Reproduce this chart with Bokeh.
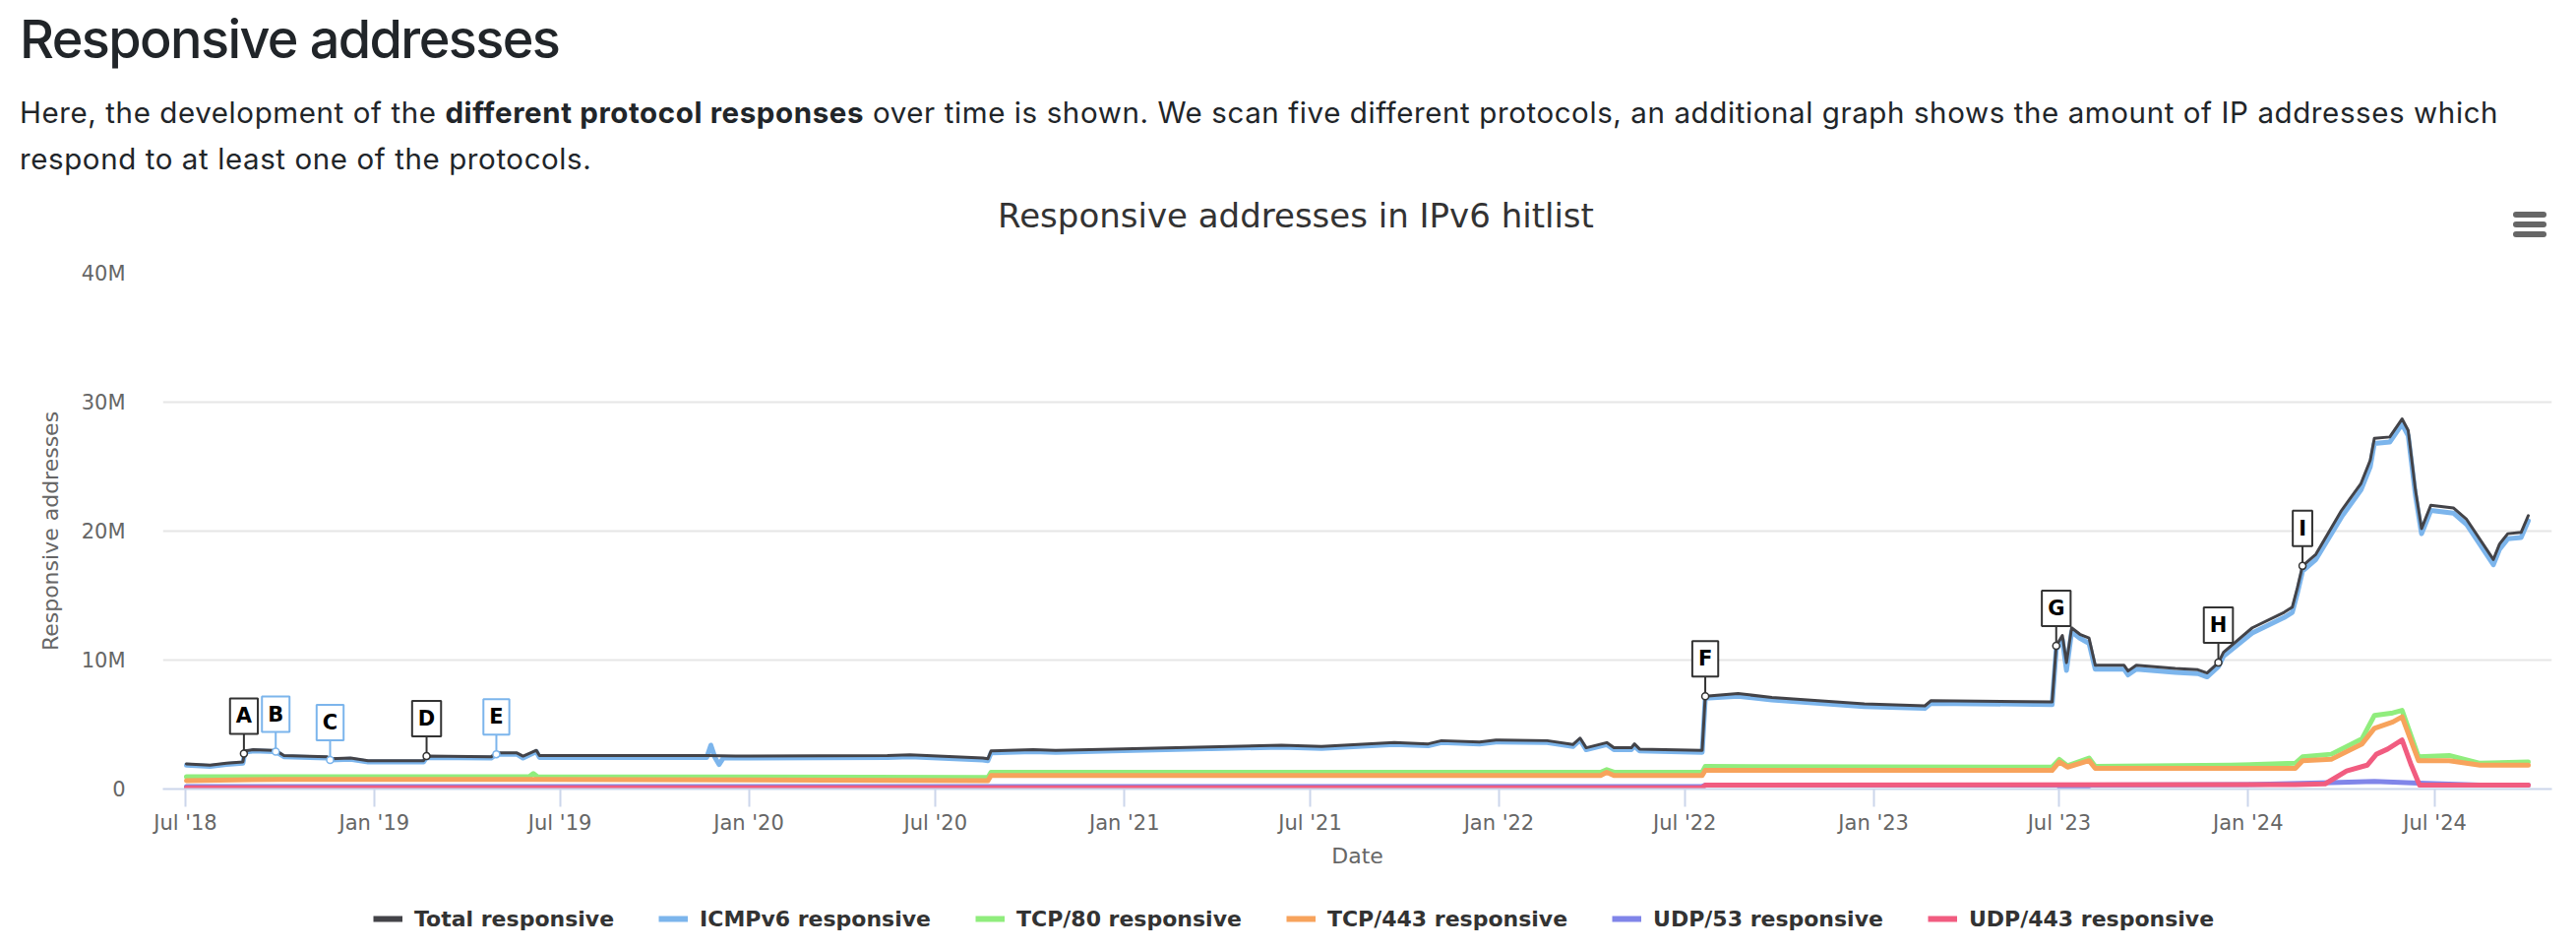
import pandas as pd
from bokeh.plotting import figure
from bokeh.layouts import column
from bokeh.models import (Div, Range1d, FixedTicker, MonthsTicker, DatetimeTickFormatter,
                          Legend, LegendItem, Label, ColumnDataSource)
from bokeh.embed import file_html
from bokeh.resources import INLINE

# ---------------- data (values in millions of responsive addresses) ----------------
total_dates = ["2018-07-02", "2018-07-25", "2018-08-10", "2018-08-26", "2018-08-28", "2018-09-05",
               "2018-09-25", "2018-09-28", "2018-10-05", "2018-11-16", "2018-11-19", "2018-12-09",
               "2018-12-26", "2019-02-18", "2019-02-21", "2019-04-25", "2019-04-30", "2019-05-20",
               "2019-05-26", "2019-06-08", "2019-06-11", "2019-11-21", "2019-12-19", "2020-05-15",
               "2020-06-06", "2020-08-16", "2020-08-21", "2020-08-24", "2020-10-04", "2020-10-26",
               "2020-12-20", "2021-06-03", "2021-07-12", "2021-09-21", "2021-10-24", "2021-11-06",
               "2021-12-13", "2021-12-29", "2022-02-17", "2022-03-14", "2022-03-21", "2022-03-27",
               "2022-04-16", "2022-04-23", "2022-05-10", "2022-05-13", "2022-05-18", "2022-07-18",
               "2022-07-21", "2022-08-22", "2022-09-24", "2022-12-23", "2023-02-20", "2023-02-26",
               "2023-06-24", "2023-06-28", "2023-07-04", "2023-07-08", "2023-07-13", "2023-07-21",
               "2023-07-30", "2023-08-05", "2023-09-02", "2023-09-06", "2023-09-14", "2023-10-22",
               "2023-11-13", "2023-11-22", "2023-12-03", "2023-12-08", "2024-01-05", "2024-02-05",
               "2024-02-13", "2024-02-18", "2024-02-23", "2024-03-07", "2024-04-01", "2024-04-20",
               "2024-04-29", "2024-05-03", "2024-05-18", "2024-05-30", "2024-06-05", "2024-06-12",
               "2024-06-18", "2024-06-27", "2024-07-19", "2024-08-01", "2024-08-27", "2024-09-02",
               "2024-09-10", "2024-09-23", "2024-09-30"]
total_values = [1.95, 1.85, 2.0, 2.1, 2.95, 3.05,
                3.0, 2.95, 2.6, 2.5, 2.35, 2.4,
                2.2, 2.2, 2.55, 2.5, 2.8, 2.8,
                2.55, 3.0, 2.6, 2.6, 2.55, 2.6,
                2.65, 2.4, 2.35, 2.95, 3.05, 3.0,
                3.1, 3.4, 3.3, 3.6, 3.5, 3.75,
                3.65, 3.8, 3.75, 3.45, 3.95, 3.2,
                3.6, 3.2, 3.2, 3.5, 3.1, 3.0,
                7.2, 7.4, 7.1, 6.6, 6.45, 6.85,
                6.75, 11.1, 11.9, 9.8, 12.5, 12.0,
                11.7, 9.6, 9.6, 9.15, 9.6, 9.35,
                9.25, 9.0, 9.8, 10.6, 12.5, 13.7,
                14.1, 15.6, 17.3, 18.2, 21.6, 23.7,
                25.5, 27.2, 27.3, 28.7, 27.8, 23.2,
                20.2, 22.0, 21.8, 20.9, 17.8, 19.0,
                19.8, 19.9, 21.2]

icmp_dates = ["2018-07-02", "2018-07-25", "2018-08-10", "2018-08-26", "2018-08-28", "2018-09-05",
              "2018-09-25", "2018-09-28", "2018-10-05", "2018-11-16", "2018-11-19", "2018-12-09",
              "2018-12-26", "2019-02-18", "2019-02-21", "2019-04-25", "2019-04-30", "2019-05-20",
              "2019-05-26", "2019-06-08", "2019-06-11", "2019-11-21", "2019-11-25", "2019-11-29",
              "2019-12-03", "2019-12-07", "2020-05-15", "2020-06-06", "2020-08-16", "2020-08-21",
              "2020-08-24", "2020-10-04", "2020-10-26", "2020-12-20", "2021-06-03", "2021-07-12",
              "2021-09-21", "2021-10-24", "2021-11-06", "2021-12-13", "2021-12-29", "2022-02-17",
              "2022-03-14", "2022-03-21", "2022-03-27", "2022-04-16", "2022-04-23", "2022-05-10",
              "2022-05-13", "2022-05-18", "2022-07-18", "2022-07-21", "2022-08-22", "2022-09-24",
              "2022-12-23", "2023-02-20", "2023-02-26", "2023-06-24", "2023-06-28", "2023-07-04",
              "2023-07-08", "2023-07-13", "2023-07-21", "2023-07-30", "2023-08-05", "2023-09-02",
              "2023-09-06", "2023-09-14", "2023-10-22", "2023-11-13", "2023-11-22", "2023-12-03",
              "2023-12-08", "2024-01-05", "2024-02-05", "2024-02-13", "2024-02-18", "2024-02-23",
              "2024-03-07", "2024-04-01", "2024-04-20", "2024-04-29", "2024-05-03", "2024-05-18",
              "2024-05-30", "2024-06-05", "2024-06-12", "2024-06-18", "2024-06-27", "2024-07-19",
              "2024-08-01", "2024-08-27", "2024-09-02", "2024-09-10", "2024-09-23", "2024-09-30"]
icmp_values = [1.85, 1.75, 1.9, 2.0, 2.85, 2.95,
               2.9, 2.85, 2.5, 2.4, 2.25, 2.3,
               2.1, 2.1, 2.45, 2.4, 2.7, 2.7,
               2.4, 2.9, 2.45, 2.45, 3.4, 2.45,
               1.9, 2.4, 2.45, 2.5, 2.25, 2.2,
               2.8, 2.9, 2.85, 2.95, 3.25, 3.15,
               3.45, 3.35, 3.6, 3.5, 3.65, 3.6,
               3.3, 3.8, 3.05, 3.45, 3.05, 3.05,
               3.35, 2.95, 2.85, 7.05, 7.2, 6.9,
               6.4, 6.25, 6.65, 6.55, 10.8, 11.6,
               9.2, 12.2, 11.7, 11.3, 9.3, 9.3,
               8.85, 9.3, 9.05, 8.95, 8.7, 9.5,
               10.3, 12.1, 13.3, 13.7, 15.2, 16.9,
               17.8, 21.1, 23.2, 25.0, 26.8, 26.9,
               28.3, 27.4, 22.8, 19.8, 21.6, 21.4,
               20.5, 17.4, 18.6, 19.4, 19.5, 20.8]

tcp80_dates = ["2018-07-02", "2019-06-01", "2019-06-05", "2019-06-09", "2020-08-21", "2020-08-24",
               "2022-04-10", "2022-04-16", "2022-04-23", "2022-07-18", "2022-07-21", "2023-06-24",
               "2023-07-01", "2023-07-09", "2023-07-30", "2023-08-05", "2023-12-15", "2024-02-16",
               "2024-02-23", "2024-03-22", "2024-04-21", "2024-05-03", "2024-05-21", "2024-05-30",
               "2024-06-15", "2024-07-15", "2024-08-14", "2024-09-30"]
tcp80_values = [0.95, 0.95, 1.2, 0.95, 0.9, 1.3,
                1.3, 1.5, 1.3, 1.3, 1.75, 1.7,
                2.3, 1.8, 2.4, 1.75, 1.85, 2.0,
                2.5, 2.7, 3.9, 5.7, 5.9, 6.1,
                2.5, 2.6, 2.0, 2.1]

tcp443_dates = ["2018-07-02", "2018-10-01", "2019-06-05", "2020-08-21", "2020-08-24", "2022-04-10",
                "2022-04-16", "2022-04-23", "2022-07-18", "2022-07-21", "2023-06-24", "2023-07-01",
                "2023-07-09", "2023-07-30", "2023-08-05", "2024-02-16", "2024-02-23", "2024-03-22",
                "2024-04-21", "2024-05-03", "2024-05-21", "2024-05-30", "2024-06-15", "2024-07-15",
                "2024-08-14", "2024-09-30"]
tcp443_values = [0.65, 0.75, 0.75, 0.65, 1.05, 1.05,
                 1.3, 1.05, 1.05, 1.45, 1.45, 2.1,
                 1.7, 2.2, 1.6, 1.6, 2.2, 2.3,
                 3.5, 4.7, 5.2, 5.6, 2.2, 2.2,
                 1.85, 1.85]

udp53_dates = ["2018-07-02", "2022-07-18", "2022-07-21", "2023-06-30", "2023-07-02", "2023-07-25",
               "2023-08-01", "2024-01-01", "2024-03-22", "2024-05-03", "2024-06-15", "2024-08-14",
               "2024-09-30"]
udp53_values = [0.2, 0.2, 0.3, 0.3, 0.05, 0.05,
                0.3, 0.35, 0.5, 0.6, 0.45, 0.3,
                0.3]

udp443_dates = ["2018-07-02", "2022-07-18", "2022-07-21", "2024-02-16", "2024-03-16", "2024-04-06",
                "2024-04-26", "2024-05-05", "2024-05-16", "2024-05-30", "2024-06-08", "2024-06-16",
                "2024-09-30"]
udp443_values = [0.1, 0.1, 0.3, 0.35, 0.4, 1.4,
                 1.85, 2.7, 3.1, 3.8, 1.85, 0.3,
                 0.3]

series_names = ["Total responsive", "ICMPv6 responsive", "TCP/80 responsive",
                "TCP/443 responsive", "UDP/53 responsive", "UDP/443 responsive"]
series_colors = ["#434348", "#7cb5ec", "#90ed7d", "#f7a35c", "#8085e9", "#f15c80"]

ann_labels = ["A", "B", "C", "D", "E", "F", "G", "H", "I"]
ann_dates = ["2018-08-27", "2018-09-27", "2018-11-19", "2019-02-21", "2019-04-30",
             "2022-07-21", "2023-06-28", "2023-12-03", "2024-02-23"]
ann_values = [2.75, 2.9, 2.25, 2.55, 2.7, 7.2, 11.1, 9.8, 17.3]
ann_series = ["total", "icmp", "icmp", "total", "icmp", "total", "total", "total", "total"]

y_ticks = [0, 10, 20, 30, 40]
y_tick_labels = ["0", "10M", "20M", "30M", "40M"]
x_start, x_end = "2018-06-09", "2024-10-23"

chart_title = "Responsive addresses in IPv6 hitlist"

# ---------------- layout constants ----------------
PAGE_W = 2618
HEAD_H = 250
LEG_H = 64
FIG_H = 964 - HEAD_H - LEG_H
FRAME_L, FRAME_R, FRAME_T, FRAME_B = 165, 2593, 277, 801
FRAME_H = FRAME_B - FRAME_T
Y_MAX = 40
CONNECTOR_PX = 20
FONT = "DejaVu Sans"

bar = ('<div style="position:absolute;left:2554px;top:{}px;width:34px;height:6px;'
       'border-radius:3px;background:#666666;"></div>')
header = Div(
    text=(
        '<div style="position:relative;width:2618px;height:250px;font-family:Inter,sans-serif;color:#212529;">'
        '<div style="position:absolute;left:20px;top:13px;font-size:54px;font-weight:500;'
        'letter-spacing:-1.6px;line-height:54px;white-space:nowrap;">Responsive addresses</div>'
        '<div style="position:absolute;left:20px;top:91px;font-size:29.5px;letter-spacing:0.6px;'
        'line-height:47px;white-space:nowrap;">'
        'Here, the development of the <b>different protocol responses</b> over time is shown. '
        'We scan five different protocols, an additional graph shows the amount of IP addresses which<br>'
        'respond to at least one of the protocols.</div>'
        '<div style="position:absolute;left:8px;top:199px;width:2618px;text-align:center;'
        "font-family:'DejaVu Sans';font-size:34px;line-height:40px;color:#333333;white-space:nowrap;\">"
        + chart_title + '</div>'
        + bar.format(215) + bar.format(225) + bar.format(235) +
        '</div>'
    ),
    width=PAGE_W, height=HEAD_H, margin=0,
)

p = figure(width=PAGE_W, height=FIG_H, x_axis_type="datetime",
           x_range=Range1d(pd.Timestamp(x_start), pd.Timestamp(x_end)),
           y_range=Range1d(0, Y_MAX),
           output_backend="svg", toolbar_location=None,
           min_border_left=FRAME_L, min_border_right=PAGE_W - FRAME_R,
           min_border_top=FRAME_T - HEAD_H, min_border_bottom=HEAD_H + FIG_H - FRAME_B,
           margin=0)
p.outline_line_color = None
p.background_fill_color = "white"
p.border_fill_color = "white"

# axes
yt = FixedTicker(ticks=y_ticks)
p.yaxis.ticker = yt
p.ygrid.ticker = yt
p.yaxis.major_label_overrides = {t: l for t, l in zip(y_ticks, y_tick_labels)}
p.yaxis.axis_line_color = None
p.yaxis.major_tick_line_color = None
p.yaxis.minor_tick_line_color = None
p.yaxis.major_label_standoff = 32
p.yaxis.major_label_text_font = FONT
p.yaxis.major_label_text_font_size = "21px"
p.yaxis.major_label_text_color = "#666666"
p.yaxis.axis_label = "Responsive addresses"
p.yaxis.axis_label_text_font = FONT
p.yaxis.axis_label_text_font_size = "22px"
p.yaxis.axis_label_text_font_style = "normal"
p.yaxis.axis_label_text_color = "#666666"
p.yaxis.axis_label_standoff = 16

p.xaxis.ticker = MonthsTicker(months=[0, 6])
p.xaxis.formatter = DatetimeTickFormatter(months="%b '%y", years="%b '%y", days="%b '%y")
p.xaxis.axis_line_color = "#ccd6eb"
p.xaxis.axis_line_width = 2
p.xaxis.major_tick_line_color = "#ccd6eb"
p.xaxis.major_tick_line_width = 2
p.xaxis.major_tick_out = 18
p.xaxis.major_tick_in = 0
p.xaxis.minor_tick_line_color = None
p.xaxis.major_label_standoff = 4
p.xaxis.major_label_text_font = FONT
p.xaxis.major_label_text_font_size = "21px"
p.xaxis.major_label_text_color = "#666666"
p.xaxis.axis_label = "Date"
p.xaxis.axis_label_text_font = FONT
p.xaxis.axis_label_text_font_size = "22px"
p.xaxis.axis_label_text_font_style = "normal"
p.xaxis.axis_label_text_color = "#666666"
p.xaxis.axis_label_standoff = 6

p.xgrid.grid_line_color = None
p.ygrid.grid_line_color = "#e6e6e6"
p.ygrid.grid_line_width = 2

# series (drawn with the total on top so its dark line stays visible)
all_dates = [total_dates, icmp_dates, tcp80_dates, tcp443_dates, udp53_dates, udp443_dates]
all_values = [total_values, icmp_values, tcp80_values, tcp443_values, udp53_values, udp443_values]
widths = [3, 5, 5, 5, 5, 5]
draw_order = [1, 2, 3, 4, 5, 0]
for i in draw_order:
    p.line(pd.to_datetime(all_dates[i]), all_values[i], line_color=series_colors[i],
           line_width=widths[i], line_join="round", line_cap="round")

# annotations (connector + labelled box)
ann_colors = ["#333333" if s == "total" else "#7cb5ec" for s in ann_series]
ann_x = pd.to_datetime(ann_dates)
conn = CONNECTOR_PX * Y_MAX / FRAME_H
src = ColumnDataSource(dict(x=ann_x, y=ann_values, y1=[v + conn for v in ann_values], c=ann_colors))
p.segment(x0="x", y0="y", x1="x", y1="y1", line_color="c", line_width=2, source=src)
p.scatter(x="x", y="y", size=7, marker="circle", fill_color="white", line_color="c",
          line_width=1.5, source=src)
for t, x, y, c in zip(ann_labels, ann_x, ann_values, ann_colors):
    p.add_layout(Label(x=x, y=y, y_offset=CONNECTOR_PX, text=t, text_align="center",
                       text_baseline="bottom", text_font=FONT, text_font_style="bold",
                       text_font_size="21px", text_color="black", background_fill_color="white",
                       border_line_color=c, border_line_width=2,
                       padding=dict(left=6, right=6, top=6, bottom=6)))

# legend strip below the chart (same series colours)
lg = figure(width=PAGE_W, height=LEG_H, output_backend="svg", toolbar_location=None,
            x_range=Range1d(0, 1), y_range=Range1d(0, 1), x_axis_location=None,
            y_axis_location=None, min_border=0, margin=0)
lg.outline_line_color = None
lg.xgrid.grid_line_color = None
lg.ygrid.grid_line_color = None
leg_items = []
for name, color in zip(series_names, series_colors):
    r = lg.line([-3, -2], [-3, -2], line_color=color, line_width=6)
    leg_items.append(LegendItem(label=name, renderers=[r]))
legend = Legend(items=leg_items, orientation="horizontal", location=(214, 18),
                label_text_font=FONT, label_text_font_style="bold", label_text_font_size="22px",
                label_text_color="#333333", glyph_width=30, glyph_height=26, label_height=26,
                label_standoff=12, spacing=45, padding=0, margin=0,
                border_line_color=None, background_fill_alpha=0)
lg.add_layout(legend)

layout = column(header, p, lg, spacing=0)
open("out.html", "w").write(file_html(layout, INLINE))
